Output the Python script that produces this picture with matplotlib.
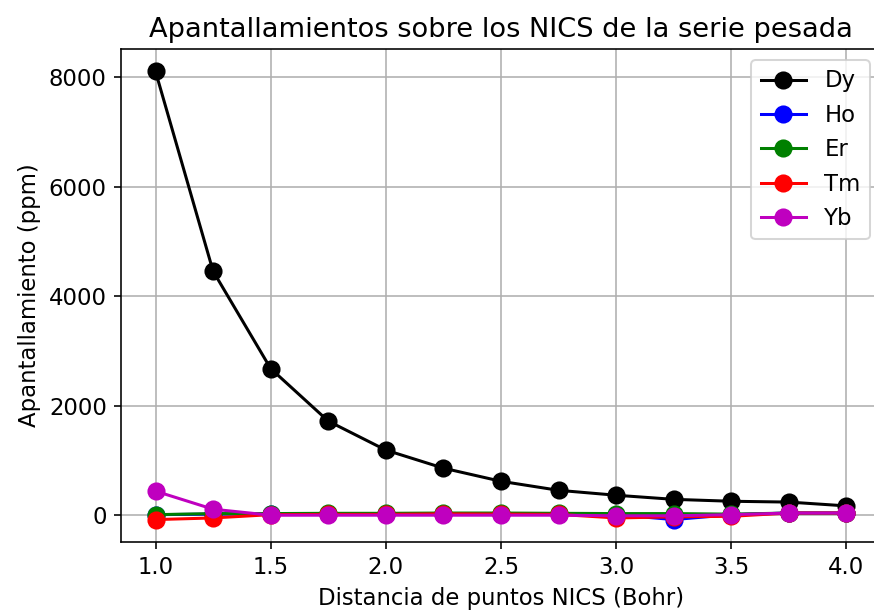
import matplotlib
matplotlib.use('Agg')
import matplotlib.pyplot as plt

distancia = [1.0, 1.25, 1.5, 1.75, 2.0, 2.25, 2.5, 2.75, 3.0, 3.25, 3.5, 3.75, 4.0]
dy = [8110, 4460, 2680, 1720, 1190, 860, 620, 455, 365, 290, 255, 240, 170]
ho = [10, 20, 20, 25, 25, 30, 30, 25, 10, -80, 10, 40, 40]
er = [10, 30, 30, 35, 35, 40, 40, 35, 30, 30, 20, 40, 40]
tm = [-80, -50, 10, 15, 15, 25, 20, 15, -50, -30, -20, 40, 40]
yb = [440, 110, 0, 0, 0, 0, 0, 0, -10, -10, 10, 40, 40]

series = [('Dy', dy, 'k'), ('Ho', ho, 'b'), ('Er', er, 'g'), ('Tm', tm, 'r'), ('Yb', yb, 'm')]

plt.rcParams['font.size'] = 11.3
fig = plt.figure(figsize=(874 / 145, 615 / 145), dpi=145)
# the right edge of the axes falls just outside the picture
ax = fig.add_axes([0.1384, 0.1187, 0.8696, 0.8016])
for name, vals, col in series:
    ax.plot(distancia, vals, color=col, marker='o', markersize=8, linewidth=1.5, label=name)
ax.grid(True)
ax.set_title('Apantallamientos sobre los NICS de la serie pesada')
ax.set_xlabel('Distancia de puntos NICS (Bohr)')
ax.set_ylabel('Apantallamiento (ppm)')
ax.legend(loc='upper right')
fig.savefig('out.png', dpi=145)
